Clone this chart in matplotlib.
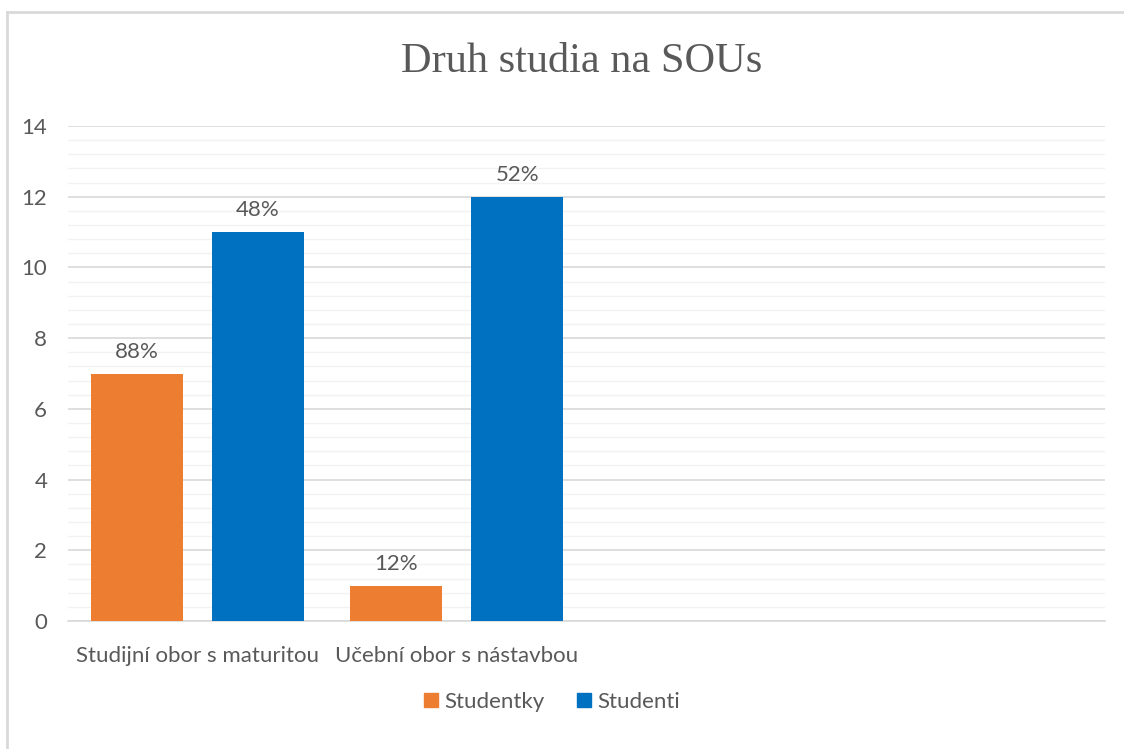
"""Druh studia na SOUs - grouped bar chart."""
import matplotlib.pyplot as plt
import numpy as np
from matplotlib.lines import Line2D

categories = ["Studijní obor s maturitou", "Učební obor s nástavbou", "", ""]
studentky = [7, 1, 0, 0]
studenti = [11, 12, 0, 0]
studentky_labels = ["88%", "12%"]
studenti_labels = ["48%", "52%"]

orange = "#ED7D31"
blue = "#0070C0"
text_col = "#595959"

plt.rcParams['font.family'] = ['Lato', 'DejaVu Sans']

fig = plt.figure(figsize=(11.24, 7.49), dpi=100)
ax = fig.add_axes([68 / 1124, 1 - 621 / 749, (1105 - 68) / 1124, (621 - 126) / 749])

x = np.arange(len(categories))
w = 0.355
off = 0.233
n = len(studentky_labels)
ax.bar(x[:n] - off, studentky[:n], w, color=orange, zorder=3)
ax.bar(x[:n] + off, studenti[:n], w, color=blue, zorder=3)

for i in range(n):
    ax.text(x[i] - off, studentky[i] + 0.33, studentky_labels[i], ha="center", va="bottom",
            fontsize=16, color=text_col)
    ax.text(x[i] + off, studenti[i] + 0.33, studenti_labels[i], ha="center", va="bottom",
            fontsize=16, color=text_col)

ax.set_xlim(-0.5, 3.5)
ax.set_ylim(0, 14)
ax.set_yticks(np.arange(0, 15, 2))
ax.set_yticks(np.arange(0, 14.01, 0.4), minor=True)
ax.grid(axis="y", which="major", color="#D9D9D9", linewidth=1.2, zorder=0)
ax.grid(axis="y", which="minor", color="#F2F2F2", linewidth=1.0, zorder=0)
ax.set_xticks(x)
ax.set_xticklabels(categories)
ax.tick_params(axis="both", which="both", length=0, labelsize=16, colors=text_col)
ax.tick_params(axis="y", pad=15)
ax.tick_params(axis="x", pad=18)
for s in ["top", "right", "left"]:
    ax.spines[s].set_visible(False)
ax.spines["bottom"].set_color("#D9D9D9")
ax.spines["bottom"].set_linewidth(1.2)

fig.text(582 / 1124, 1 - 62 / 749, "Druh studia na SOUs", ha="center", va="center",
         fontsize=30.5, color=text_col, family=["Liberation Serif"])

handles = [Line2D([], [], marker="s", linestyle="", color=orange, markersize=10),
           Line2D([], [], marker="s", linestyle="", color=blue, markersize=10)]
fig.legend(handles, ["Studentky", "Studenti"], loc="center", bbox_to_anchor=(550 / 1124, 1 - 702 / 749),
           ncol=2, frameon=False, fontsize=16, labelcolor=text_col, handletextpad=0.1,
           columnspacing=1.3, handlelength=1.0)

# light screenshot border on top and left
fig.add_artist(Line2D([7 / 1124, 7 / 1124], [0, 1 - 11.5 / 749], transform=fig.transFigure,
                      color="#D9D9D9", linewidth=2))
fig.add_artist(Line2D([7 / 1124, 1], [1 - 11.5 / 749, 1 - 11.5 / 749], transform=fig.transFigure,
                      color="#D9D9D9", linewidth=2))

fig.savefig("out.png", dpi=100)
